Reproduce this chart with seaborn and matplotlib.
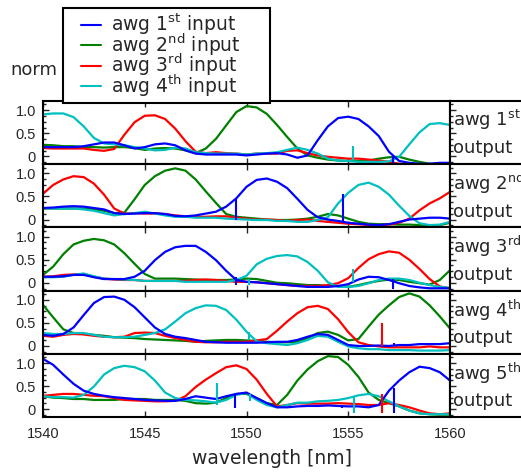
import matplotlib
matplotlib.use("Agg")
import numpy as np
import pandas as pd
import matplotlib.pyplot as plt
import seaborn as sns
from matplotlib.lines import Line2D
from matplotlib.legend_handler import HandlerLine2D
from matplotlib.ticker import MultipleLocator

# ---------------- data ----------------
wavelength = [1540.0, 1540.5, 1541.0, 1541.5, 1542.0, 1542.5, 1543.0, 1543.5, 1544.0, 1544.5,
              1545.0, 1545.5, 1546.0, 1546.5, 1547.0, 1547.5, 1548.0, 1548.5, 1549.0, 1549.5,
              1550.0, 1550.5, 1551.0, 1551.5, 1552.0, 1552.5, 1553.0, 1553.5, 1554.0, 1554.5,
              1555.0, 1555.5, 1556.0, 1556.5, 1557.0, 1557.5, 1558.0, 1558.5, 1559.0, 1559.5,
              1560.0]

input_labels = ["awg 1$^{\\rm st}$ input", "awg 2$^{\\rm nd}$ input",
                "awg 3$^{\\rm rd}$ input", "awg 4$^{\\rm th}$ input"]
output_labels = ["awg 1$^{\\rm st}$\noutput", "awg 2$^{\\rm nd}$\noutput",
                 "awg 3$^{\\rm rd}$\noutput", "awg 4$^{\\rm th}$\noutput",
                 "awg 5$^{\\rm th}$\noutput"]
y_ticks = [0, 0.5, 1.0]
y_tick_labels = ["0", "0.5", "1.0"]
x_ticks = [1540, 1545, 1550, 1555, 1560]

# output 1
out1_in1 = [0.20, 0.20, 0.20, 0.20, 0.22, 0.26, 0.30, 0.30, 0.24, 0.17, 0.20, 0.26, 0.28, 0.24, 0.13,
            0.06, 0.04, 0.04, 0.04, 0.04, 0.02, 0.04, 0.06, 0.07, 0.04, -0.03, 0.02, 0.35, 0.65, 0.83,
            0.86, 0.81, 0.65, 0.44, 0.10, -0.10, -0.14, -0.16, -0.16, -0.14, -0.14]
out1_in2 = [0.25, 0.24, 0.22, 0.22, 0.20, 0.20, 0.19, 0.20, 0.20, 0.18, 0.14, 0.17, 0.18, 0.17, 0.13,
            0.07, 0.17, 0.38, 0.67, 0.96, 1.09, 1.06, 0.92, 0.68, 0.42, 0.17, 0.02, -0.03, -0.07, -0.09,
            -0.10, -0.10, -0.09, -0.05, -0.02, -0.01, -0.07, -0.12, -0.16, -0.17, -0.18]
out1_in3 = [0.18, 0.17, 0.17, 0.17, 0.17, 0.14, 0.12, 0.16, 0.47, 0.74, 0.88, 0.89, 0.81, 0.60, 0.33,
            0.10, 0.07, 0.09, 0.07, 0.06, 0.04, 0.06, 0.06, 0.06, 0.12, 0.13, 0.07, 0.02, -0.01, -0.03,
            -0.05, -0.05, -0.07, -0.09, -0.12, -0.16, -0.17, -0.17, -0.17, -0.16, -0.16]
out1_in4 = [0.91, 0.93, 0.93, 0.85, 0.65, 0.40, 0.28, 0.26, 0.24, 0.20, 0.17, 0.13, 0.14, 0.19, 0.17,
            0.09, 0.07, 0.06, 0.06, 0.06, 0.04, 0.06, 0.07, 0.09, 0.14, 0.19, 0.14, 0.06, -0.05, -0.09,
            -0.10, -0.12, -0.12, -0.12, -0.11, -0.01, 0.26, 0.52, 0.70, 0.72, 0.68]
# output 2
out2_in1 = [0.25, 0.26, 0.28, 0.29, 0.28, 0.25, 0.22, 0.14, 0.12, 0.13, 0.14, 0.14, 0.12, 0.08, 0.07,
            0.09, 0.13, 0.17, 0.28, 0.46, 0.71, 0.86, 0.89, 0.82, 0.68, 0.45, 0.21, 0.05, 0.00, -0.03,
            -0.07, -0.09, -0.11, -0.12, -0.10, -0.05, 0.00, 0.02, 0.04, 0.04, 0.02]
out2_in2 = [0.24, 0.24, 0.24, 0.24, 0.24, 0.22, 0.19, 0.14, 0.15, 0.44, 0.75, 0.94, 1.06, 1.11, 1.06,
            0.87, 0.61, 0.36, 0.12, 0.06, 0.04, 0.02, 0.00, -0.01, -0.01, 0.00, 0.02, 0.06, 0.12, 0.09,
            0.02, -0.05, -0.09, -0.10, -0.10, -0.11, -0.11, -0.12, -0.14, -0.12, -0.07]
out2_in3 = [0.56, 0.75, 0.87, 0.94, 0.92, 0.78, 0.54, 0.24, 0.13, 0.14, 0.13, 0.13, 0.12, 0.09, 0.07,
            0.06, 0.06, 0.07, 0.07, 0.04, 0.02, 0.00, 0.00, -0.01, -0.03, -0.01, 0.00, -0.03, -0.05, -0.07,
            -0.09, -0.10, -0.12, -0.12, -0.11, -0.07, 0.02, 0.20, 0.35, 0.46, 0.60]
out2_in4 = [0.24, 0.24, 0.24, 0.24, 0.22, 0.19, 0.14, 0.09, 0.12, 0.14, 0.17, 0.13, 0.09, 0.06, 0.06,
            0.04, 0.04, 0.04, 0.02, 0.01, 0.00, -0.01, -0.01, -0.03, -0.03, -0.05, -0.05, -0.01, 0.05, 0.35,
            0.58, 0.75, 0.80, 0.71, 0.54, 0.30, 0.08, -0.08, -0.12, -0.11, -0.05]
# output 3
out3_in1 = [0.13, 0.13, 0.14, 0.17, 0.17, 0.12, 0.08, 0.08, 0.08, 0.13, 0.26, 0.49, 0.67, 0.77, 0.80,
            0.80, 0.67, 0.49, 0.26, 0.06, 0.02, 0.01, -0.01, -0.03, -0.05, -0.07, -0.09, -0.09, -0.09, -0.07,
            -0.03, 0.07, 0.13, 0.12, 0.06, -0.01, -0.07, -0.10, -0.12, -0.12, -0.12]
out3_in2 = [0.17, 0.35, 0.62, 0.83, 0.91, 0.95, 0.92, 0.83, 0.64, 0.41, 0.19, 0.09, 0.09, 0.09, 0.08,
            0.07, 0.06, 0.06, 0.06, 0.07, 0.09, 0.08, 0.04, 0.00, -0.01, -0.03, -0.05, -0.05, -0.07, -0.07,
            -0.09, -0.05, 0.00, 0.04, 0.07, 0.06, 0.02, -0.01, -0.04, 0.06, 0.27]
out3_in3 = [0.13, 0.14, 0.17, 0.18, 0.19, 0.13, 0.09, 0.07, 0.06, 0.06, 0.04, 0.04, 0.04, 0.04, 0.04,
            0.06, 0.07, 0.06, 0.04, 0.02, 0.02, 0.01, -0.01, -0.03, -0.05, -0.07, -0.07, -0.07, -0.05, -0.01,
            0.10, 0.32, 0.51, 0.62, 0.68, 0.65, 0.50, 0.30, 0.08, -0.08, -0.12]
out3_in4 = [0.12, 0.12, 0.13, 0.17, 0.20, 0.14, 0.09, 0.08, 0.07, 0.06, 0.04, 0.04, 0.04, 0.04, 0.02,
            0.02, 0.02, 0.02, 0.02, 0.06, 0.15, 0.40, 0.52, 0.58, 0.60, 0.57, 0.45, 0.26, 0.01, -0.09,
            -0.09, -0.07, -0.01, 0.06, 0.09, 0.09, 0.06, 0.00, -0.05, -0.09, -0.11]
# output 4
out4_in1 = [0.24, 0.22, 0.26, 0.40, 0.67, 0.93, 1.06, 1.07, 1.00, 0.84, 0.62, 0.40, 0.26, 0.20, 0.17,
            0.13, 0.09, 0.08, 0.07, 0.07, 0.07, 0.07, 0.08, 0.09, 0.09, 0.13, 0.20, 0.26, 0.24, 0.13,
            0.02, 0.00, 0.00, 0.01, 0.00, 0.02, 0.02, 0.04, 0.04, 0.04, 0.06]
out4_in2 = [0.89, 0.62, 0.36, 0.28, 0.26, 0.24, 0.22, 0.19, 0.18, 0.17, 0.15, 0.14, 0.13, 0.12, 0.11,
            0.09, 0.11, 0.12, 0.13, 0.13, 0.12, 0.11, 0.09, 0.08, 0.08, 0.09, 0.17, 0.28, 0.31, 0.24,
            0.12, 0.15, 0.42, 0.68, 0.88, 1.06, 1.14, 1.07, 0.88, 0.64, 0.38]
out4_in3 = [0.22, 0.20, 0.24, 0.26, 0.25, 0.22, 0.20, 0.19, 0.20, 0.28, 0.29, 0.28, 0.22, 0.17, 0.13,
            0.09, 0.08, 0.08, 0.09, 0.09, 0.09, 0.12, 0.15, 0.33, 0.53, 0.71, 0.84, 0.87, 0.80, 0.58,
            0.30, 0.08, 0.02, -0.01, -0.03, -0.03, -0.03, -0.03, -0.01, -0.03, -0.03]
out4_in4 = [0.28, 0.26, 0.26, 0.28, 0.28, 0.24, 0.20, 0.19, 0.19, 0.20, 0.24, 0.28, 0.36, 0.53, 0.71,
            0.82, 0.88, 0.87, 0.78, 0.57, 0.31, 0.10, 0.06, 0.04, 0.02, 0.06, 0.13, 0.22, 0.20, 0.09,
            -0.01, -0.05, -0.07, -0.07, -0.09, -0.09, -0.09, -0.10, -0.10, -0.10, -0.09]
# output 5
out5_in1 = [1.09, 0.96, 0.75, 0.55, 0.40, 0.33, 0.29, 0.26, 0.24, 0.22, 0.20, 0.19, 0.18, 0.18, 0.22,
            0.28, 0.25, 0.22, 0.28, 0.33, 0.36, 0.24, 0.13, 0.04, 0.04, 0.06, 0.07, 0.07, 0.08, 0.07,
            0.06, 0.06, 0.04, 0.09, 0.40, 0.62, 0.80, 0.92, 0.89, 0.80, 0.62]
out5_in2 = [0.28, 0.25, 0.24, 0.22, 0.22, 0.20, 0.20, 0.20, 0.22, 0.22, 0.22, 0.20, 0.20, 0.20, 0.18,
            0.13, 0.12, 0.14, 0.24, 0.33, 0.33, 0.24, 0.13, 0.09, 0.31, 0.62, 0.86, 1.04, 1.15, 1.13,
            0.96, 0.70, 0.36, 0.20, 0.13, 0.06, -0.03, -0.09, -0.11, -0.12, -0.12]
out5_in3 = [0.29, 0.31, 0.33, 0.33, 0.31, 0.29, 0.28, 0.24, 0.20, 0.19, 0.18, 0.17, 0.17, 0.18, 0.28,
            0.48, 0.64, 0.78, 0.91, 0.95, 0.87, 0.64, 0.33, 0.06, 0.09, 0.13, 0.12, 0.12, 0.12, 0.13,
            0.12, 0.11, 0.09, 0.09, 0.13, 0.09, 0.04, -0.03, -0.09, -0.11, -0.09]
out5_in4 = [0.28, 0.26, 0.26, 0.25, 0.31, 0.49, 0.75, 0.89, 0.94, 0.91, 0.82, 0.62, 0.36, 0.24, 0.20,
            0.19, 0.17, 0.14, 0.20, 0.31, 0.35, 0.20, 0.09, 0.04, 0.09, 0.14, 0.14, 0.17, 0.18, 0.20,
            0.24, 0.30, 0.33, 0.28, 0.17, 0.06, -0.03, -0.09, -0.11, -0.11, -0.11]

# measurement glitches (vertical spikes): panel, input index, wavelength, low, high
spike_panel = [0, 0, 1, 1, 2, 2, 2, 2, 3, 3, 3, 4, 4, 4, 4, 4, 4, 4]
spike_input = [3, 0, 0, 0, 0, 3, 3, 0, 3, 2, 0, 3, 0, 3, 3, 2, 0, 0]
spike_wl = [1555.25, 1557.2, 1549.5, 1554.73, 1549.5, 1550.1, 1555.25, 1557.2, 1550.1, 1556.67,
            1557.25, 1548.55, 1549.45, 1550.15, 1555.28, 1556.64, 1557.25, 1554.7]
spike_lo = [-0.07, -0.15, 0.0, -0.04, -0.05, -0.05, 0.01, -0.13, 0.13, -0.01,
            -0.0, 0.10, 0.03, 0.17, -0.08, -0.08, -0.08, 0.02]
spike_hi = [0.22, 0.0, 0.45, 0.56, 0.12, 0.09, 0.30, 0.09, 0.30, 0.50,
            0.07, 0.57, 0.33, 0.33, 0.28, 0.33, 0.46, 0.10]

panels = [
    [out1_in1, out1_in2, out1_in3, out1_in4],
    [out2_in1, out2_in2, out2_in3, out2_in4],
    [out3_in1, out3_in2, out3_in3, out3_in4],
    [out4_in1, out4_in2, out4_in3, out4_in4],
    [out5_in1, out5_in2, out5_in3, out5_in4],
]
line_colors = ["#0000ff", "#008000", "#ff0000", "#00bfbf"]
draw_order = [1, 2, 3, 0]  # blue drawn on top

# ---------------- style ----------------
sns.set_style("ticks")
plt.rcParams["font.family"] = ["DejaVu Sans"]
plt.rcParams["mathtext.fontset"] = "dejavusans"

W, H = 521, 472
fig = plt.figure(figsize=(W / 100, H / 100), dpi=100)
fig.patch.set_facecolor("white")

left_px, right_px = 43, 450
top_px, bot_px = 101, 417
ph = (bot_px - top_px) / 5
ylim = (-0.17, 1.2)

for i, series in enumerate(panels):
    y_top = top_px + i * ph
    rect = [left_px / W, 1 - (y_top + ph) / H, (right_px - left_px) / W, ph / H]
    ax = fig.add_axes(rect)
    df = pd.DataFrame({
        "wavelength": wavelength * 4,
        "norm": sum(series, []),
        "input": sum([[input_labels[k]] * len(wavelength) for k in range(4)], []),
    })
    sns.lineplot(data=df, x="wavelength", y="norm", hue="input",
                 hue_order=[input_labels[k] for k in draw_order],
                 palette={input_labels[k]: line_colors[k] for k in range(4)},
                 linewidth=1.6, estimator=None, sort=False, legend=False, ax=ax)
    for p, k, xw, lo, hi in zip(spike_panel, spike_input, spike_wl, spike_lo, spike_hi):
        if p == i:
            ax.vlines(xw, lo, hi, color=line_colors[k], linewidth=1.5,
                      zorder=3 if k == 0 else 2)
    ax.set_xlim(1540, 1560)
    ax.set_ylim(*ylim)
    ax.set_xlabel("")
    ax.set_ylabel("")
    ax.set_xticks(x_ticks)
    ax.set_yticks(y_ticks)
    ax.set_yticklabels(y_tick_labels)
    ax.yaxis.set_minor_locator(MultipleLocator(0.125))
    ax.tick_params(axis="both", which="both", direction="in", top=True, right=False,
                   labelfontfamily="Liberation Sans", labelsize=10.5, width=1.0)
    ax.tick_params(which="major", length=4.5)
    ax.tick_params(which="minor", length=2.5)
    ax.tick_params(axis="y", pad=5)
    ax.tick_params(axis="x", pad=7, labelbottom=(i == 4))
    for s in ax.spines.values():
        s.set_linewidth(1.5)
        s.set_color("black")

    # label box on the right (clipped by the figure edge, as in the original)
    bax = fig.add_axes([right_px / W, rect[1], 0.3, rect[3]])
    bax.set_ylim(*ylim)
    bax.set_xticks([])
    bax.set_yticks(y_ticks)
    bax.yaxis.set_minor_locator(MultipleLocator(0.125))
    bax.tick_params(axis="y", which="both", direction="in", left=True, labelleft=False, width=1.0)
    bax.tick_params(axis="y", which="major", length=4.5)
    bax.tick_params(axis="y", which="minor", length=2.5)
    for s in bax.spines.values():
        s.set_linewidth(1.5)
        s.set_color("black")
    bax.text(3 / (0.3 * W), 0.5, output_labels[i], transform=bax.transAxes,
             ha="left", va="center", fontsize=13, linespacing=1.45)

handles = [Line2D([], [], color=line_colors[k], linewidth=1.5) for k in range(4)]
leg = fig.legend(handles, input_labels, loc="upper left",
                 bbox_to_anchor=(63 / W, 1 - 8 / H - 0.01, 207 / W, 0.01), mode="expand",
                 fontsize=13.5, frameon=True, fancybox=False, edgecolor="black",
                 framealpha=1, borderpad=0.2, labelspacing=-0.3, handlelength=1.85,
                 handletextpad=0.5, borderaxespad=0,
                 handler_map={Line2D: HandlerLine2D(xpad=0.76)})
leg.get_frame().set_linewidth(1.5)
leg.set_zorder(10)

fig.text(10 / W, 1 - 70 / H, "norm", ha="left", va="center", fontsize=13)
fig.text(272 / W, 1 - 458 / H, "wavelength [nm]", ha="center", va="center", fontsize=13.5)

fig.savefig("out.png", dpi=100, facecolor="white")
